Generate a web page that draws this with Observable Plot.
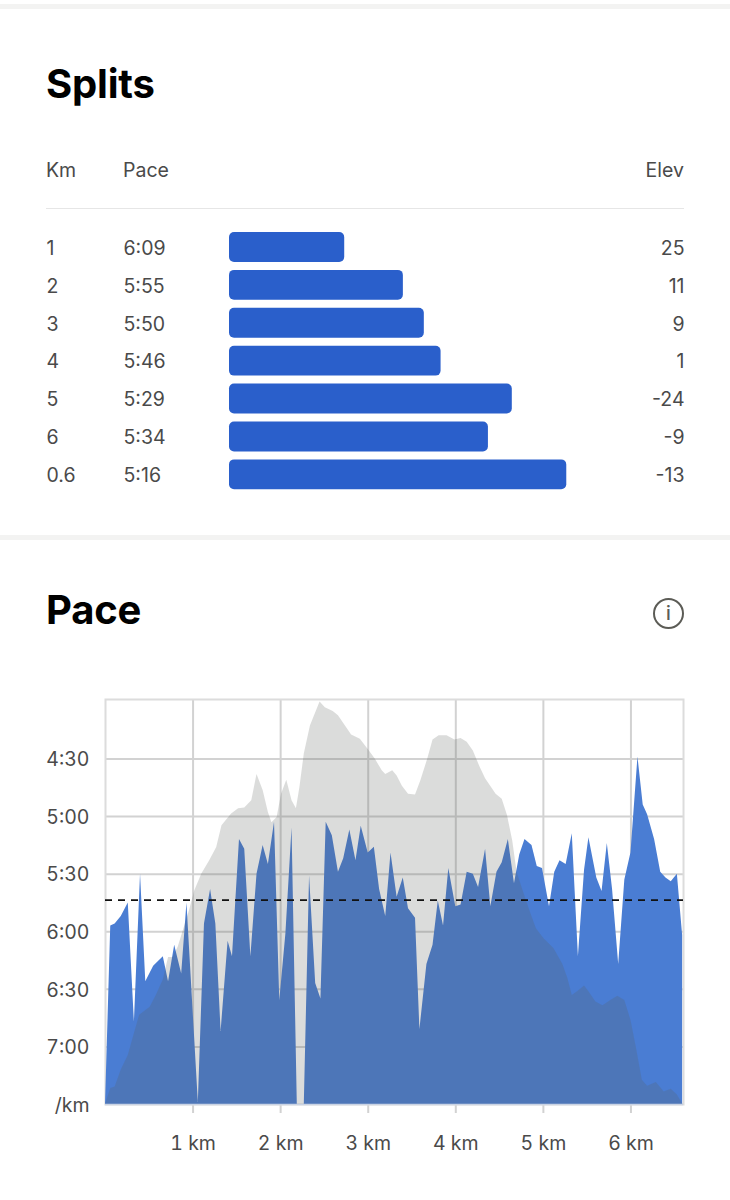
<!DOCTYPE html>
<html><head><meta charset="utf-8">
<script src="https://cdn.jsdelivr.net/npm/d3@7"></script>
<script src="https://cdn.jsdelivr.net/npm/@observablehq/plot@0.6"></script>
<style>
html,body{margin:0;padding:0;background:#fff}
#page{position:relative;width:730px;height:1200px;overflow:hidden;font-family:Inter,"Noto Sans",sans-serif;color:#4a4a4a}
#page>*{position:absolute}
.bandline{left:0;width:730px;height:5px;background:#f3f3f2}
h1{margin:0;left:46px;font:700 40px/46px Inter,sans-serif;color:#000;letter-spacing:-.2px}
.h{font:400 19.5px/24px Inter,sans-serif;top:158px}
.info{left:653px;top:598px;width:27px;height:27px;border:2.5px solid #5c5c56;border-radius:50%;text-align:center;font:500 19px/27px Inter,sans-serif;color:#5c5c56}
svg{display:block;overflow:visible}
</style></head><body>
<div id="page">
<div class="bandline" style="top:4px"></div>
<h1 style="top:61px">Splits</h1>
<div class="h" style="left:46px">Km</div>
<div class="h" style="left:123px">Pace</div>
<div class="h" style="right:46px">Elev</div>
<div style="left:46px;width:638px;top:208px;height:1px;background:#e6e6e6"></div>
<div id="splits" style="left:0;top:228px"></div>
<div class="bandline" style="top:535px"></div>
<h1 style="top:587px">Pace</h1>
<div class="info">i</div>
<div id="pace" style="left:0;top:680px"></div>
</div>
<script>
const splitKm=["1","2","3","4","5","6","0.6"];
const splitPace=["6:09","5:55","5:50","5:46","5:29","5:34","5:16"];
const splitSec=[369,355,350,346,329,334.7,316];
const splitElev=["25","11","9","1","-24","-9","-13"];

const paceKm=[0,.06,.11,.18,.26,.33,.40,.46,.55,.66,.72,.79,.87,.93,1.06,1.13,1.20,1.26,1.32,1.40,1.45,1.53,1.59,1.66,1.73,1.80,1.86,1.93,1.99,2.06,2.13,2.19,2.27,2.33,2.40,2.46,2.52,2.59,2.66,2.72,2.79,2.86,2.92,3.00,3.07,3.13,3.20,3.26,3.33,3.40,3.46,3.54,3.59,3.67,3.74,3.80,3.86,3.92,4.00,4.06,4.13,4.20,4.26,4.34,4.40,4.47,4.53,4.60,4.67,4.73,4.79,4.87,4.93,4.99,5.07,5.13,5.19,5.26,5.33,5.40,5.47,5.52,5.61,5.67,5.73,5.79,5.86,5.93,6.00,6.08,6.14,6.19,6.27,6.34,6.40,6.46,6.53,6.59];
const paceSec=[450,357,356,352,345,407,330,386,378,373,386,367,382,345,449,356,338,356,412,365,373,312,317,373,330,315,325,303,396,361,306,450,450,331,387,395,303,310,329,322,307,323,305,319,316,338,352,319,342,332,348,353,411,377,367,344,357,327,347,346,329,330,337,317,347,329,324,312,335,320,312,315,326,327,347,329,323,325,309,373,328,311,332,339,314,338,377,333,319,269,294,299,312,329,332,334,330,362];

const elevKm=[0,.06,.11,.18,.26,.34,.39,.51,.58,.66,.72,.77,.83,.89,.96,1.02,1.10,1.19,1.27,1.33,1.44,1.52,1.59,1.67,1.73,1.80,1.86,1.90,1.96,2.01,2.07,2.13,2.18,2.22,2.27,2.34,2.45,2.51,2.60,2.66,2.74,2.81,2.91,3.00,3.08,3.16,3.20,3.28,3.33,3.39,3.46,3.54,3.60,3.68,3.74,3.81,3.90,3.99,4.06,4.13,4.20,4.27,4.34,4.46,4.53,4.59,4.65,4.70,4.78,4.86,4.92,5.01,5.12,5.22,5.28,5.33,5.39,5.47,5.52,5.60,5.68,5.77,5.85,5.93,6.00,6.06,6.13,6.19,6.29,6.38,6.46,6.53,6.59];
const elevM=[0,2.2,2.4,4.7,6.7,10.1,12.2,13.3,14.9,17.0,20.1,20.1,21.5,23.8,26.5,29.2,31.5,33.3,35.1,38.1,39.7,40.4,40.5,41.5,45.1,42.9,39.9,38.5,39.2,42.4,44.3,41.5,40.4,43.3,47.9,51.7,55.0,54.2,53.7,53.1,51.7,50.5,49.9,48.5,47.2,45.6,45.1,45.6,44.9,43.5,42.4,42.3,44.2,47.2,49.8,50.4,50.4,49.8,50.0,49.5,48.3,46.3,44.5,42.4,41.7,39.5,36.0,31.7,28.8,26.0,24.0,22.6,21.3,19.2,17.2,14.9,15.4,16.2,15.4,14.0,13.5,14.2,14.8,14.2,11.5,7.9,3.3,2.5,3.0,1.7,2.1,1.3,0.1];

const kmTicks=[1,2,3,4,5,6];
const paceTicks=[270,300,330,360,390,420,450];
const paceTickLabels=["4:30","5:00","5:30","6:00","6:30","7:00","/km"];
const avgPace=343.5;
const slowest=450, fastest=239, secPerMetre=3.813;

const textStyle={fontFamily:"Inter,sans-serif",fontSize:19.5,fill:"#4a4a4a",dy:1};

document.getElementById("splits").append(Plot.plot({
  width:730,height:266,marginLeft:46,marginRight:46,marginTop:0,marginBottom:0,
  style:{background:"transparent",overflow:"visible"},
  x:{domain:[396.5,287.9],range:[229,684],axis:null},
  y:{domain:splitKm,range:[0,265.3],round:false,paddingInner:.21,paddingOuter:.105,axis:null},
  marks:[
    Plot.barX(splitKm,{x1:()=>396.5,x2:(d,i)=>splitSec[i],y:d=>d,fill:"#2a5fcb",rx:5}),
    Plot.text(splitKm,{y:d=>d,text:d=>d,frameAnchor:"left",textAnchor:"start",...textStyle}),
    Plot.text(splitPace,{y:(d,i)=>splitKm[i],text:d=>d,frameAnchor:"left",textAnchor:"start",dx:77,...textStyle}),
    Plot.text(splitElev,{y:(d,i)=>splitKm[i],text:d=>d,frameAnchor:"right",textAnchor:"end",...textStyle})
  ]
}));

document.getElementById("pace").append(Plot.plot({
  width:730,height:485,marginLeft:105,marginRight:47,marginTop:19,marginBottom:61,
  style:{background:"transparent",overflow:"visible"},
  x:{domain:[0,6.6],axis:null},
  y:{domain:[slowest,fastest],axis:null},
  marks:[
    Plot.ruleY(paceTicks.slice(0,-1),{stroke:"#d2d2d2",strokeWidth:2}),
    Plot.ruleX(kmTicks,{stroke:"#d2d2d2",strokeWidth:2,insetBottom:-9}),
    Plot.frame({stroke:"#dcdcdc",strokeWidth:2}),
    Plot.areaY(paceSec,{x:paceKm,y1:()=>slowest,y2:d=>d,fill:"#4a7dd3"}),
    Plot.areaY(elevM,{x:elevKm,y1:()=>slowest,y2:d=>slowest-d*secPerMetre,fill:"#5c605c",fillOpacity:.22}),
    Plot.ruleY([avgPace],{stroke:"#111",strokeWidth:1.8,strokeDasharray:"7 6"}),
    Plot.ruleY([slowest],{stroke:"#c9d3e4",strokeWidth:1.5}),
    Plot.axisY(paceTicks,{tickSize:0,tickPadding:16,tickFormat:(d)=>paceTickLabels[paceTicks.indexOf(d)],label:null,fontSize:19.5,fontFamily:"Inter,sans-serif",fill:"#4a4a4a",dy:1}),
    Plot.axisX(kmTicks,{tickSize:0,tickPadding:32,tickFormat:d=>d+" km",label:null,fontSize:19.5,fontFamily:"Inter,sans-serif",fill:"#4a4a4a"})
  ]
}));
</script>
</body></html>
